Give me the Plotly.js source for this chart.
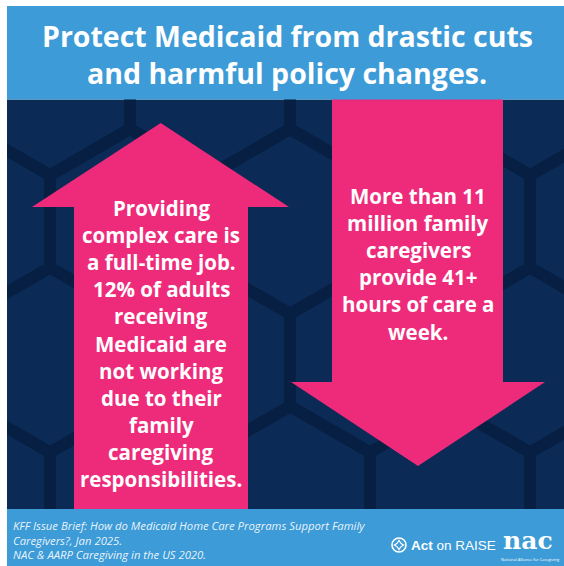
<!DOCTYPE html>
<html><head><meta charset="utf-8">
<script src="https://cdn.plot.ly/plotly-3.0.1.min.js"></script>
<style>html,body{margin:0;padding:0;background:#fff;overflow:hidden}</style>
</head><body><div id="chart" style="width:564px;height:566px"></div>
<script>
// ---- content (text data) ----
const titleLines = ["Protect Medicaid from drastic cuts", "and harmful policy changes."];
const leftStatLines = ["Providing", "complex care is", "a full-time job.", "12% of adults", "receiving",
  "Medicaid are", "not working", "due to their", "family", "caregiving", "responsibilities."];
const rightStatLines = ["More than 11", "million family", "caregivers", "provide 41+", "hours of care a", "week."];
const sourceLines = ["KFF Issue Brief: How do Medicaid Home Care Programs Support Family",
  "Caregivers?, Jan 2025.", "NAC &amp; AARP Caregiving in the US 2020."];
const logoActBold = "Act";
const logoActRest = " on RAISE";
const logoNac = "nac";
const logoNacCaption = "National Alliance for Caregiving";

// ---- style ----
const NAVY = "#0c2a56", HEXLINE = "#061f42", PINK = "#ee2b7b", BLUE = "#3d9bd8", WHITE = "#ffffff";
const FONT = "'Open Sans', 'Noto Sans', sans-serif";

// ---- layout geometry ----
const X0 = 7, X1 = 564, TOP = 6, BAND = 99.5, FOOT = 509, BOT = 566;

// hexagon background (decorative)
function hexPath() {
  const R = 92.4, W = 160, rowH = 138.6;
  let p = "";
  for (let k = -3; k <= 3; k++) {
    const cy = 360 + k * rowH;
    const off = (Math.abs(k) % 2 === 0) ? 50 : 130;
    for (let j = -2; j <= 5; j++) {
      const cx = off + j * W;
      const pts = [];
      for (let a = 0; a < 6; a++) {
        const th = (-90 + 60 * a) * Math.PI / 180;
        pts.push([cx + R * Math.cos(th), cy + R * Math.sin(th)]);
      }
      p += "M" + pts.map(q => q[0].toFixed(1) + "," + q[1].toFixed(1)).join(" L") + " Z ";
    }
  }
  return p;
}

const shapes = [
  {type: "rect", xref: "x", yref: "y", x0: X0, x1: X1, y0: BAND, y1: FOOT, fillcolor: NAVY, line: {width: 0}, layer: "above"},
  {type: "path", xref: "x", yref: "y", path: hexPath(), line: {color: HEXLINE, width: 12}, fillcolor: "rgba(0,0,0,0)", layer: "above"},
  // up arrow
  {type: "path", xref: "x", yref: "y", path: "M74,509 L74,207 L32,207 L160.7,123 L289,207 L248,207 L248,509 Z", fillcolor: PINK, line: {width: 0}, layer: "above"},
  // down arrow
  {type: "path", xref: "x", yref: "y", path: "M332,99 L503,99 L503,382 L545,382 L418,466 L291,382 L332,382 Z", fillcolor: PINK, line: {width: 0}, layer: "above"},
  // title band + footer
  {type: "rect", xref: "x", yref: "y", x0: X0, x1: X1, y0: TOP, y1: BAND, fillcolor: BLUE, line: {width: 0}, layer: "above"},
  {type: "rect", xref: "x", yref: "y", x0: X0, x1: X1, y0: FOOT, y1: BOT, fillcolor: BLUE, line: {width: 0}, layer: "above"},
  // white margins
  {type: "rect", xref: "x", yref: "y", x0: 0, x1: X0, y0: 0, y1: BOT, fillcolor: WHITE, line: {width: 0}, layer: "above"},
  {type: "rect", xref: "x", yref: "y", x0: 0, x1: X1, y0: 0, y1: TOP, fillcolor: WHITE, line: {width: 0}, layer: "above"},
  // Act on RAISE icon
  {type: "circle", xref: "x", yref: "y", x0: 392, x1: 406, y0: 538, y1: 552, line: {color: WHITE, width: 1.6}, layer: "above"},
  {type: "path", xref: "x", yref: "y", path: "M399,540.5 Q400.5,543.5 403.5,545 Q400.5,546.5 399,549.5 Q397.5,546.5 394.5,545 Q397.5,543.5 399,540.5 Z", line: {color: WHITE, width: 1.3}, fillcolor: "rgba(0,0,0,0)", layer: "above"}
];

const ann = [];
function addLines(lines, cx, y0, dy, size, opts) {
  lines.forEach((t, i) => {
    ann.push(Object.assign({
      text: t, x: cx, y: y0 + i * dy, xref: "x", yref: "y", showarrow: false,
      xanchor: "center", yanchor: "middle",
      font: {family: FONT, size: size, color: WHITE, weight: 700}
    }, opts || {}));
  });
}
addLines(titleLines, 287, 36, 37, 28.5);
addLines(leftStatLines, 161, 208, 27.1, 20.5);
addLines(rightStatLines, 418, 196, 27.1, 20.5);
ann.push({text: sourceLines.join("<br>"), x: 11, y: 540, xref: "x", yref: "y", showarrow: false,
  xanchor: "left", yanchor: "middle", align: "left",
  font: {family: FONT, size: 11.3, color: "rgba(255,255,255,0.9)", style: "italic", weight: 400}});
ann.push({text: "<b>" + logoActBold + "</b>" + logoActRest, x: 409, y: 545, xref: "x", yref: "y", showarrow: false,
  xanchor: "left", yanchor: "middle", font: {family: "'Liberation Sans', Arial, sans-serif", size: 13.5, color: WHITE}});
ann.push({text: logoNac, x: 528, y: 540, xref: "x", yref: "y", showarrow: false,
  xanchor: "center", yanchor: "middle", font: {family: "'DejaVu Serif', serif", size: 25, color: WHITE, weight: 700}});
ann.push({text: logoNacCaption, x: 530, y: 559, xref: "x", yref: "y", showarrow: false,
  xanchor: "center", yanchor: "middle", font: {family: FONT, size: 4, color: WHITE}});

const layout = {
  width: 564, height: 566,
  margin: {l: 0, r: 0, t: 0, b: 0, pad: 0},
  paper_bgcolor: WHITE, plot_bgcolor: WHITE,
  xaxis: {range: [0, 564], visible: false, fixedrange: true},
  yaxis: {range: [566, 0], visible: false, fixedrange: true},
  showlegend: false,
  shapes: shapes,
  annotations: ann
};
Plotly.newPlot("chart", [], layout, {staticPlot: true, displayModeBar: false});
</script>
</body></html>
